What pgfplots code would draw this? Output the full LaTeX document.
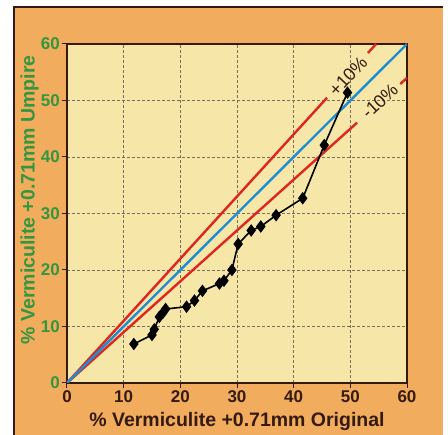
\documentclass[border=0pt]{standalone}
\usepackage{pgfplots}
\pgfplotsset{compat=1.18}
\usepackage{fontspec}
\setmainfont{Liberation Sans}
\definecolor{panel}{RGB}{242,172,94}
\definecolor{plotbg}{RGB}{246,231,168}
\definecolor{tgreen}{RGB}{52,150,62}
\definecolor{dbrown}{RGB}{52,26,16}
\definecolor{lred}{RGB}{222,38,30}
\definecolor{lblue}{RGB}{30,142,212}
\definecolor{gridc}{RGB}{120,110,95}
\begin{document}
\begin{tikzpicture}[x=1pt,y=1pt]
\fill[white] (0,0) rectangle (448,435);
\useasboundingbox (0,0) rectangle (448,435);
\fill[panel] (14,0) rectangle (443,428);
\draw[dbrown,line width=2pt] (14,0) -- (14,428) -- (443,428);
\begin{axis}[
  at={(67pt,52pt)}, anchor=south west,
  scale only axis, width=340pt, height=339pt,
  xmin=0, xmax=60, ymin=0, ymax=60,
  xtick={0,10,...,60}, ytick={0,10,...,60},
  axis background/.style={fill=plotbg},
  axis line style={dbrown, line width=1.8pt},
  tick style={dbrown, line width=1pt},
  tick align=outside, major tick length=5pt,
  xtick pos=bottom, ytick pos=left,
  grid=major,
  major grid style={gridc, dashed, line width=0.6pt, dash pattern=on 3pt off 2pt},
  /pgf/number format/assume math mode=true,
  xticklabel style={font=\fontsize{17}{17}\selectfont\bfseries, text=dbrown, inner sep=2pt},
  yticklabel style={font=\fontsize{17}{17}\selectfont\bfseries, text=tgreen, inner sep=2pt},
  xlabel={\% Vermiculite +0.71mm Original},
  ylabel={\% Vermiculite +0.71mm Umpire},
  xlabel style={font=\fontsize{19.5}{19.5}\selectfont\bfseries, text=dbrown, at={(axis description cs:0.5,-0.114)}, anchor=center},
  ylabel style={font=\fontsize{19.5}{19.5}\selectfont\bfseries, text=tgreen, at={(axis description cs:-0.11,0.54)}, anchor=center},
  clip=true,
]
\addplot[lred, line width=2.4pt] coordinates {(0,0) (45.9,50.5)};
\addplot[lred, line width=2.4pt] coordinates {(53.1,58.4) (54.55,60)};
\addplot[lred, line width=2.4pt] coordinates {(0,0) (51.2,46.08)};
\addplot[lred, line width=2.4pt] coordinates {(58.8,52.92) (60,54)};
\addplot[lblue, line width=2.4pt] coordinates {(0,0) (60,60)};
\addplot[black, line width=1.6pt, mark=diamond*, mark size=5pt, mark options={solid, fill=black}] coordinates {
(11.8,6.9) (15.0,8.5) (15.4,9.5) (16.3,11.7) (16.9,12.4) (17.4,13.1)
(21.1,13.5) (22.5,14.6) (23.9,16.3) (26.9,17.6) (27.7,18.1) (29.1,20.0)
(30.2,24.6) (32.5,27.0) (34.2,27.7) (36.9,29.7) (41.6,32.7) (45.4,42.1) (49.5,51.4)
};
\node[rotate=47, font=\fontsize{18}{18}\selectfont, text=dbrown, inner sep=0pt] at (axis cs:49.6,54.3) {+10\%};
\node[rotate=43, font=\fontsize{18}{18}\selectfont, text=dbrown, inner sep=0pt] at (axis cs:55.2,49.9) {-10\%};
\end{axis}
\end{tikzpicture}
\end{document}
